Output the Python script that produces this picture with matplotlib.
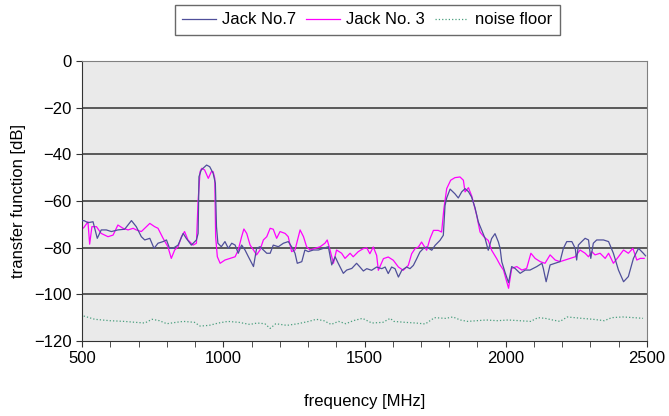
import matplotlib.pyplot as plt
import numpy as np

plt.rcParams['font.family'] = ['Liberation Sans', 'DejaVu Sans']

# Jack No.7
jack7_freq = [500, 507, 521, 539, 554, 568, 586, 604, 627, 651, 675, 692, 710, 722, 740, 755, 769,
              787, 799, 810, 822, 840, 858, 869, 887, 905, 911, 914, 922, 941, 952, 964, 972, 976,
              981, 993, 1006, 1018, 1030, 1042, 1053, 1065, 1077, 1089, 1107, 1118, 1130, 1142,
              1154, 1166, 1177, 1195, 1213, 1230, 1242, 1254, 1262, 1278, 1289, 1301, 1319, 1337,
              1354, 1372, 1384, 1396, 1407, 1425, 1437, 1455, 1472, 1484, 1496, 1508, 1525, 1543,
              1561, 1573, 1584, 1596, 1608, 1620, 1632, 1649, 1661, 1673, 1685, 1696, 1708, 1720,
              1738, 1750, 1767, 1779, 1785, 1791, 1803, 1820, 1832, 1844, 1856, 1868, 1879, 1891,
              1903, 1915, 1927, 1938, 1950, 1962, 1974, 1980, 1986, 1997, 2010, 2021, 2033, 2051,
              2069, 2086, 2110, 2128, 2133, 2143, 2157, 2175, 2192, 2204, 2216, 2234, 2246, 2251,
              2257, 2269, 2281, 2293, 2301, 2310, 2322, 2346, 2364, 2381, 2399, 2417, 2434, 2452,
              2470, 2487, 2495]
jack7_db = [-68.5, -68.4, -69.3, -68.9, -76.0, -72.4, -72.4, -73.1, -72.4, -72.1, -68.4, -71.0,
            -75.3, -76.7, -76.0, -80.3, -78.1, -77.4, -76.7, -80.3, -80.3, -78.9, -73.9, -76.0,
            -78.9, -76.7, -73.9, -49.6, -46.7, -44.6, -45.3, -48.1, -52.4, -71.0, -78.1, -79.6,
            -77.4, -80.3, -78.1, -78.9, -82.4, -78.9, -81.0, -83.9, -88.1, -80.3, -79.6, -81.0,
            -82.4, -82.4, -78.9, -79.6, -78.1, -77.4, -79.6, -82.4, -86.7, -86.0, -81.0, -81.7,
            -81.0, -81.0, -80.3, -79.6, -87.4, -83.9, -86.7, -91.0, -89.6, -88.9, -86.7, -88.3,
            -90.0, -89.0, -89.7, -88.3, -89.0, -88.3, -91.1, -88.3, -89.0, -92.6, -89.7, -88.3,
            -89.0, -87.6, -84.7, -81.9, -80.4, -79.7, -81.1, -79.0, -76.9, -74.7, -62.0, -58.7,
            -54.9, -56.9, -58.7, -56.1, -54.7, -56.0, -58.3, -62.8, -69.0, -72.6, -76.1, -81.1,
            -76.1, -74.0, -77.6, -80.3, -86.1, -90.4, -95.0, -88.1, -88.9, -91.0, -89.6, -89.6,
            -88.1, -86.7, -88.9, -94.6, -87.4, -86.7, -86.0, -80.3, -77.4, -77.4, -80.3, -85.3,
            -78.9, -77.4, -76.0, -76.7, -84.6, -78.1, -76.7, -76.7, -77.4, -82.4, -89.6, -94.6,
            -92.4, -84.6, -80.3, -82.4, -83.5]

# Jack No. 3
jack3_freq = [500, 507, 521, 527, 535, 551, 568, 592, 610, 627, 645, 663, 681, 692, 710, 728, 740,
              757, 769, 787, 804, 816, 828, 840, 852, 863, 875, 893, 905, 911, 918, 924, 934, 947,
              958, 964, 970, 973, 979, 989, 1006, 1024, 1042, 1053, 1065, 1073, 1083, 1095, 1107,
              1118, 1130, 1142, 1154, 1166, 1177, 1189, 1201, 1219, 1230, 1242, 1254, 1272, 1284,
              1295, 1307, 1325, 1343, 1360, 1368, 1378, 1390, 1401, 1419, 1431, 1449, 1460, 1478,
              1496, 1508, 1519, 1531, 1543, 1549, 1567, 1584, 1602, 1620, 1637, 1655, 1667, 1679,
              1691, 1702, 1720, 1732, 1744, 1761, 1773, 1781, 1791, 1805, 1820, 1838, 1850, 1856,
              1868, 1880, 1885, 1897, 1909, 1923, 1938, 1950, 1968, 1980, 1992, 2010, 2021, 2039,
              2057, 2074, 2089, 2104, 2122, 2139, 2157, 2175, 2192, 2210, 2228, 2246, 2263, 2281,
              2293, 2305, 2316, 2334, 2352, 2364, 2381, 2399, 2417, 2434, 2450, 2464, 2476, 2490]
jack3_db = [-72.0, -71.3, -68.9, -78.5, -71.0, -71.0, -73.9, -75.3, -74.6, -70.3, -71.7, -72.4,
            -71.7, -72.4, -73.1, -71.0, -69.6, -71.0, -71.7, -76.0, -79.6, -84.6, -81.0, -79.6,
            -75.3, -73.1, -76.7, -78.9, -78.1, -59.6, -47.4, -46.0, -46.7, -50.3, -47.4, -47.4,
            -50.3, -75.3, -83.9, -86.7, -85.3, -84.6, -83.9, -81.0, -75.3, -72.0, -73.9, -78.9,
            -81.0, -83.1, -81.0, -76.7, -75.3, -71.7, -72.1, -76.0, -73.1, -73.9, -75.3, -81.7,
            -81.0, -72.4, -75.3, -79.6, -81.0, -80.3, -79.6, -78.1, -76.7, -81.0, -86.7, -81.0,
            -82.4, -84.6, -82.4, -83.9, -81.7, -80.4, -80.1, -82.6, -79.7, -83.3, -89.7, -84.7,
            -84.0, -85.4, -88.3, -89.7, -87.6, -82.6, -80.4, -79.7, -77.6, -81.1, -76.1, -72.6,
            -72.6, -73.3, -63.3, -54.7, -51.1, -50.0, -49.7, -51.1, -56.1, -54.3, -58.0, -60.4,
            -66.1, -73.3, -75.4, -76.9, -81.1, -84.7, -87.4, -89.6, -97.4, -88.9, -88.1, -89.6,
            -88.9, -82.4, -84.6, -86.0, -86.7, -83.1, -85.3, -86.0, -85.3, -84.6, -83.9, -81.0,
            -82.4, -83.9, -81.7, -83.1, -82.4, -84.6, -82.4, -86.7, -83.9, -81.0, -82.4, -80.3,
            -85.3, -84.6, -84.6]

# noise floor
noise_freq = [506, 545, 598, 650, 689, 722, 748, 774, 800, 833, 859, 898, 918, 950, 983, 1016,
              1055, 1094, 1120, 1147, 1166, 1186, 1225, 1264, 1303, 1329, 1356, 1382, 1408, 1434,
              1460, 1493, 1526, 1565, 1591, 1604, 1643, 1682, 1715, 1748, 1787, 1813, 1839, 1865,
              1898, 1931, 1970, 2009, 2048, 2088, 2114, 2140, 2166, 2192, 2218, 2244, 2270, 2309,
              2349, 2375, 2414, 2454, 2486]
noise_db = [-109.3, -110.7, -111.3, -111.6, -112.0, -112.3, -110.7, -111.3, -112.6, -112.0,
            -111.6, -112.0, -113.6, -113.3, -112.3, -111.6, -112.0, -112.9, -112.3, -112.6,
            -114.6, -112.6, -113.3, -112.6, -111.6, -110.7, -111.3, -112.9, -111.6, -112.6,
            -111.3, -110.3, -112.3, -112.0, -110.3, -111.6, -112.0, -112.3, -112.7, -110.0,
            -110.3, -109.7, -111.0, -111.6, -111.3, -111.0, -111.3, -111.0, -111.3, -111.6,
            -110.0, -110.3, -111.0, -111.6, -109.7, -110.0, -110.3, -110.7, -111.3, -110.0,
            -109.7, -110.0, -110.3]

fig = plt.figure(figsize=(6.69, 4.16), dpi=100)
ax = fig.add_axes([0.1226, 0.1803, 0.8445, 0.6731])
ax.set_facecolor('#eaeaea')

for y in range(-100, 0, 20):
    ax.axhline(y, color='#4d4d4d', lw=1.3, zorder=1)

ax.plot(jack7_freq, jack7_db, color='#4f4f9a', lw=0.9, label='Jack No.7', zorder=3)
ax.plot(jack3_freq, jack3_db, color='#ff00ff', lw=0.9, label='Jack No. 3', zorder=2)
ax.plot(noise_freq, noise_db, color='#4a9e7e', lw=0.9, ls=':', label='noise floor', zorder=2)

ax.set_xlim(500, 2500)
ax.set_ylim(-120, 0)
ax.set_xticks(np.arange(500, 2501, 500))
ax.set_xticks(np.arange(500, 2501, 100), minor=True)
ax.set_yticks(np.arange(-120, 1, 20))
ax.tick_params(which='both', labelsize=12, direction='out', length=4, color='#333333')
for s in ax.spines.values():
    s.set_color('#808080')
ax.spines['left'].set_color('#333333')
ax.spines['bottom'].set_color('#333333')

ax.set_xlabel('frequency [MHz]', fontsize=12, labelpad=20)
ax.set_ylabel('transfer function [dB]', fontsize=12, labelpad=6)

leg = fig.legend(loc='upper center', bbox_to_anchor=(0.549, 0.988), borderaxespad=0, ncol=3,
                 fontsize=12, frameon=True, fancybox=False, edgecolor='#444444',
                 handlelength=2.0, columnspacing=0.6, handletextpad=0.4, borderpad=0.45)
leg.get_frame().set_linewidth(1.0)

fig.savefig('out.png', dpi=100)
